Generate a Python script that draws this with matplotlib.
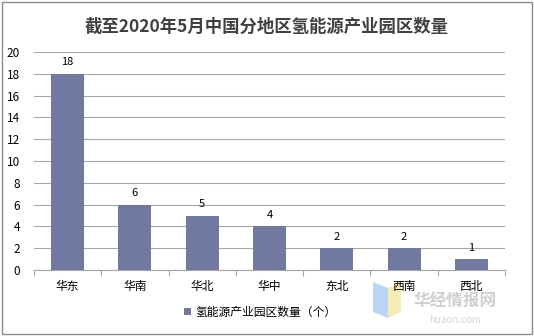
import matplotlib
matplotlib.use("Agg")
import matplotlib.pyplot as plt
from matplotlib.patches import Rectangle, Polygon
import numpy as np

plt.rcParams['font.family'] = ['Noto Sans CJK SC', 'DejaVu Sans']

title = "截至2020年5月中国分地区氢能源产业园区数量"
categories = ["华东", "华南", "华北", "华中", "东北", "西南", "西北"]
values = [18, 6, 5, 4, 2, 2, 1]
series_name = "氢能源产业园区数量（个）"
yticks = [0, 2, 4, 6, 8, 10, 12, 14, 16, 18, 20]

bar_color = "#7179A0"
grid_color = "#A6A6A6"

fig = plt.figure(figsize=(5.34, 3.36), dpi=100)
fig.patch.set_facecolor("white")

# faint watermark logo (behind everything)
fig.add_artist(Polygon([(373/534, 1-282/336), (388/534, 1-288/336), (388/534, 1-318/336), (373/534, 1-312/336)],
                       closed=True, transform=fig.transFigure, facecolor="#A9CCF2", edgecolor="none", alpha=0.8, zorder=0))
fig.add_artist(Polygon([(388/534, 1-288/336), (401/534, 1-282/336), (401/534, 1-312/336), (388/534, 1-318/336)],
                       closed=True, transform=fig.transFigure, facecolor="#F6E7A6", edgecolor="none", alpha=0.8, zorder=0))

ax = fig.add_axes([34/534, 1-270/336, (505-34)/534, (270-52)/336])
ax.patch.set_alpha(0)

x = np.arange(len(categories))
bars = ax.bar(x, values, width=0.49, color=bar_color, zorder=3, label=series_name)
for xi, v in zip(x, values):
    ax.text(xi, v + 0.6, str(v), ha="center", va="bottom", fontsize=8, color="#000000", zorder=4)

ax.set_xlim(-0.5, len(categories) - 0.5)
ax.set_ylim(0, 20)
ax.set_yticks(yticks)
ax.set_yticklabels([str(t) for t in yticks], fontsize=8.5)
ax.yaxis.grid(True, color=grid_color, linewidth=0.8, zorder=0)
ax.tick_params(axis="y", length=0, pad=10)

ax.set_xticks(x)
ax.set_xticklabels(categories, fontsize=8.5)
ax.tick_params(axis="x", length=0, pad=7)
ax.set_xticks(np.arange(-0.5, len(categories), 1.0), minor=True)
ax.tick_params(axis="x", which="minor", length=4, color=grid_color, width=0.8)

for s in ["top", "right", "left"]:
    ax.spines[s].set_visible(False)
ax.spines["bottom"].set_color(grid_color)
ax.spines["bottom"].set_linewidth(0.8)

fig.text(0.5, 1-27/336, title, ha="center", va="center", fontsize=12.5, fontweight="bold", color="#404040")

leg = fig.legend(handles=[bars], labels=[series_name], loc="center", bbox_to_anchor=(260/534, 1-312/336),
                 frameon=False, fontsize=8.5, handlelength=0.6, handleheight=0.6, handletextpad=0.3)

# watermark text
fig.text(0.852, 1-302/336, "华经情报网", ha="center", va="center", fontsize=12, fontweight="bold",
         color="#C4C4C4", alpha=0.8)
fig.text(0.852, 1-320/336, "huaon.com", ha="center", va="center", fontsize=7,
         color="#CCCCCC", alpha=0.8)

fig.add_artist(Rectangle((2/534, 2/336), 530/534, 332/336, transform=fig.transFigure,
                         fill=False, edgecolor="#8C8C8C", linewidth=1.0))

fig.savefig("out.png", dpi=100)
